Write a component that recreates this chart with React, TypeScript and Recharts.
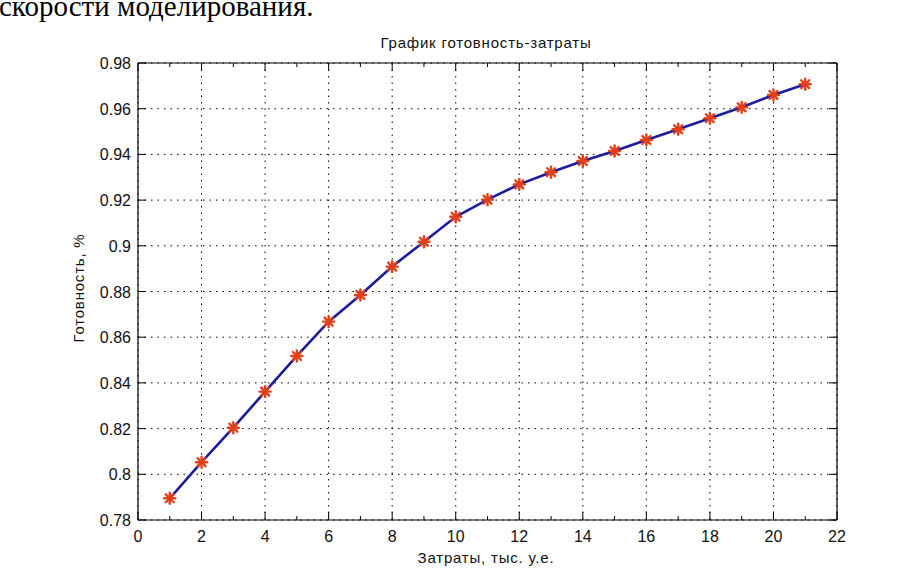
import { CartesianGrid, Line, LineChart, XAxis, YAxis } from 'recharts';

// Затраты, тыс. у.е.
const costs = [1, 2, 3, 4, 5, 6, 7, 8, 9, 10, 11, 12, 13, 14, 15, 16, 17, 18, 19, 20, 21];
// Готовность
const readiness = [
  0.7895, 0.8053, 0.8204, 0.8362, 0.8518, 0.8668, 0.8785, 0.8909, 0.9018, 0.9127, 0.9202,
  0.9269, 0.9322, 0.9371, 0.9415, 0.9463, 0.951, 0.9558, 0.9606, 0.966, 0.9707,
];

const xTicks = [0, 1, 2, 3, 4, 5, 6, 7, 8, 9, 10, 11, 12, 13, 14, 15, 16, 17, 18, 19, 20, 21, 22];
const xGridTicks = [0, 2, 4, 6, 8, 10, 12, 14, 16, 18, 20, 22];
const yTicks = [0.78, 0.8, 0.82, 0.84, 0.86, 0.88, 0.9, 0.92, 0.94, 0.96, 0.98];
const X_DOMAIN = [0, 22];

const W = 923;
const H = 582;
const FONT = '"Liberation Sans", Arial, sans-serif';
const LINE_COLOR = '#1c1c9e';
const MARKER_COLOR = '#e0401c';
const MAJOR = 8;
const MINOR = 4;

const data = costs.map((x, i) => ({ x, y: readiness[i] }));

// matlab style '*' marker
function StarDot(props: any) {
  const { cx, cy, index } = props;
  if (cx == null || cy == null) return null;
  const r = 5.5;
  const d = r * 0.72;
  return (
    <g key={index} stroke={MARKER_COLOR} strokeWidth={2.4} strokeLinecap="round">
      <line x1={cx - r} y1={cy} x2={cx + r} y2={cy} />
      <line x1={cx} y1={cy - r} x2={cx} y2={cy + r} />
      <line x1={cx - d} y1={cy - d} x2={cx + d} y2={cy + d} />
      <line x1={cx - d} y1={cy + d} x2={cx + d} y2={cy - d} />
    </g>
  );
}

const isMajorX = (v: number) => v % 2 === 0;
const fmtY = (v: number) => String(Number(v.toFixed(2)));

// ticks point inward like matlab; tickSize=0 so (x, y) sits on the axis line
function BottomTick({ x, y, payload }: any) {
  const major = isMajorX(payload.value);
  return (
    <g>
      <line x1={x} y1={y} x2={x} y2={y - (major ? MAJOR : MINOR)} stroke="#000" />
      {major && (
        <text x={x} y={y + 22} textAnchor="middle" fontFamily={FONT} fontSize={16} fill="#111">
          {payload.value}
        </text>
      )}
    </g>
  );
}

function TopTick({ x, y, payload }: any) {
  const major = isMajorX(payload.value);
  return <line x1={x} y1={y} x2={x} y2={y + (major ? MAJOR : MINOR)} stroke="#000" />;
}

function LeftTick({ x, y, payload }: any) {
  return (
    <g>
      <line x1={x} y1={y} x2={x + MAJOR} y2={y} stroke="#000" />
      <text x={x - 7} y={y + 6} textAnchor="end" fontFamily={FONT} fontSize={16} fill="#111">
        {fmtY(payload.value)}
      </text>
    </g>
  );
}

function RightTick({ x, y }: any) {
  return <line x1={x} y1={y} x2={x - MAJOR} y2={y} stroke="#000" />;
}

// grid only on the labelled (even) x ticks
function gridX({ xAxis, offset }: any) {
  return xGridTicks.map((t) =>
    xAxis && typeof xAxis.scale === 'function'
      ? xAxis.scale(t)
      : offset.left + ((t - X_DOMAIN[0]) / (X_DOMAIN[1] - X_DOMAIN[0])) * offset.width
  );
}

export default function App() {
  const axisLine = { stroke: '#000', strokeWidth: 1.2 };
  const labelProps = { fontFamily: FONT, fontSize: 15, letterSpacing: 0.8, fill: '#111' };
  return (
    <div
      style={{
        position: 'absolute',
        left: 0,
        top: 0,
        width: W,
        height: H,
        background: '#fff',
        overflow: 'hidden',
      }}
    >
      <LineChart
        width={W}
        height={H}
        data={data}
        margin={{ top: 62, right: 85, bottom: 32, left: 78 }}
      >
        <CartesianGrid
          xAxisId="bottom"
          yAxisId="left"
          stroke="#000"
          strokeDasharray="1.5 5"
          strokeWidth={1}
          verticalCoordinatesGenerator={gridX}
        />
        <XAxis
          xAxisId="bottom"
          dataKey="x"
          type="number"
          domain={X_DOMAIN}
          ticks={xTicks}
          interval={0}
          orientation="bottom"
          height={30}
          axisLine={axisLine}
          tickLine={false}
          tickSize={0}
          tickMargin={0}
          tick={<BottomTick />}
        />
        <XAxis
          xAxisId="top"
          dataKey="x"
          type="number"
          domain={X_DOMAIN}
          ticks={xTicks}
          interval={0}
          orientation="top"
          height={1}
          axisLine={axisLine}
          tickLine={false}
          tickSize={0}
          tickMargin={0}
          tick={<TopTick />}
        />
        <YAxis
          yAxisId="left"
          type="number"
          domain={[0.78, 0.98]}
          ticks={yTicks}
          interval={0}
          width={60}
          axisLine={axisLine}
          tickLine={false}
          tickSize={0}
          tickMargin={0}
          tick={<LeftTick />}
          allowDataOverflow
        />
        <YAxis
          yAxisId="right"
          orientation="right"
          type="number"
          domain={[0.78, 0.98]}
          ticks={yTicks}
          interval={0}
          width={1}
          axisLine={axisLine}
          tickLine={false}
          tickSize={0}
          tickMargin={0}
          tick={<RightTick />}
          allowDataOverflow
        />
        <Line
          xAxisId="bottom"
          yAxisId="left"
          type="linear"
          dataKey="y"
          stroke={LINE_COLOR}
          strokeWidth={2.6}
          dot={<StarDot />}
          activeDot={false}
          isAnimationActive={false}
        />
      </LineChart>

      {/* texts around the figure */}
      <svg
        width={W}
        height={H}
        style={{ position: 'absolute', left: 0, top: 0, pointerEvents: 'none' }}
      >
        <text
          x={-1}
          y={16}
          fontFamily='"Liberation Serif", "Times New Roman", serif'
          fontSize={29}
          fill="#000"
        >
          скорости моделирования.
        </text>
        <text x={486} y={48} textAnchor="middle" {...labelProps}>
          График готовность-затраты
        </text>
        <text x={486} y={563} textAnchor="middle" {...labelProps}>
          Затраты, тыс. у.е.
        </text>
        <text
          x={0}
          y={0}
          transform="translate(84 288) rotate(-90)"
          textAnchor="middle"
          {...labelProps}
        >
          Готовность, %
        </text>
      </svg>
    </div>
  );
}
